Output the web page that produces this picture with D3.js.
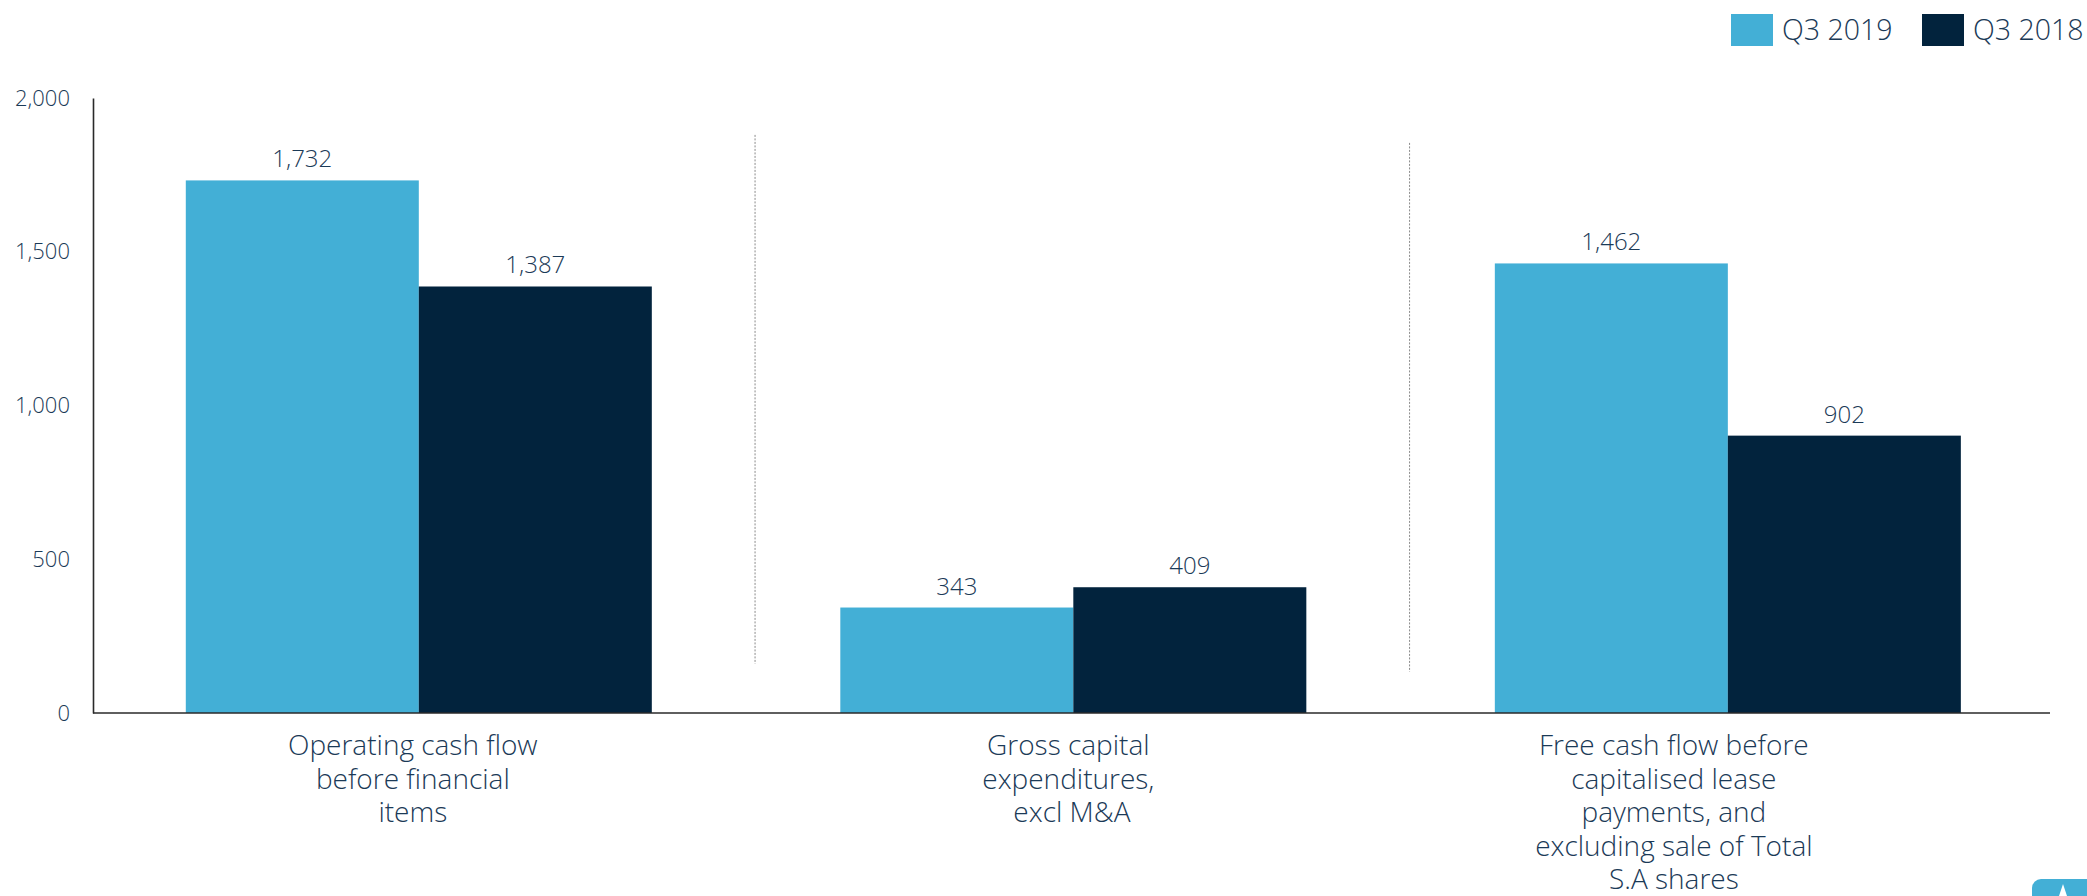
<!DOCTYPE html>
<html>
<head>
<meta charset="utf-8">
<script src="https://cdn.jsdelivr.net/npm/d3@7"></script>
<style>
  body { margin: 0; background: #fff; }
  text { font-family: "Open Sans", "Noto Sans", sans-serif; font-weight: 300; fill: #1b3a57; }
</style>
</head>
<body>
<div id="chart"></div>
<script>
// chart data
var categories = ["ocf", "capex", "fcf"];
var categoryLines = [
  ["Operating cash flow", "before financial", "items"],
  ["Gross capital", "expenditures,", "\u00a0excl M&A"],
  ["Free cash flow before", "capitalised lease", "payments, and", "excluding sale of Total", "S.A shares"]
];
var seriesNames = ["Q3 2019", "Q3 2018"];
var q3_2019 = [1732, 343, 1462];
var q3_2018 = [1387, 409, 902];
var yTicks = [0, 500, 1000, 1500, 2000];

var colors = ["#43afd6", "#02233d"];

// screen size
var svgWidth = 2087;
var svgHeight = 896;

var margin = { top: 98, right: 37, bottom: 183, left: 93 };
var width = svgWidth - margin.left - margin.right;
var height = svgHeight - margin.top - margin.bottom;

var svg = d3.select("#chart")
  .append("svg")
  .attr("width", svgWidth)
  .attr("height", svgHeight);

var chartGroup = svg.append("g")
  .attr("transform", `translate(${margin.left}, ${margin.top})`);

// scales
var xScale = d3.scaleBand()
  .domain(categories)
  .range([0, width])
  .paddingInner(0.288)
  .paddingOuter(0.139)
  .align(0.51);

var xSub = d3.scaleBand()
  .domain(seriesNames)
  .range([0, xScale.bandwidth()]);

var yScale = d3.scaleLinear()
  .domain([0, 2000])
  .range([height, 0]);

// y axis
var leftAxis = d3.axisLeft(yScale)
  .tickValues(yTicks)
  .tickSize(0)
  .tickPadding(23)
  .tickFormat(d3.format(","));

var yAxis = chartGroup.append("g").call(leftAxis);
yAxis.select(".domain").attr("stroke", "#2a2a2a").attr("stroke-width", 1.6);
yAxis.selectAll("text")
  .style("font-size", "22px")
  .attr("fill", "#1b3a57");

// bars
var rows = categories.map((c, i) => ({ cat: c, values: [q3_2019[i], q3_2018[i]] }));

var groups = chartGroup.selectAll(".grp")
  .data(rows)
  .enter()
  .append("g")
  .attr("class", "grp")
  .attr("transform", d => `translate(${xScale(d.cat)}, 0)`);

groups.selectAll("rect")
  .data(d => d.values.map((v, j) => ({ name: seriesNames[j], value: v, j: j })))
  .enter()
  .append("rect")
  .attr("x", d => xSub(d.name))
  .attr("y", d => yScale(d.value))
  .attr("width", xSub.bandwidth())
  .attr("height", d => height - yScale(d.value))
  .attr("fill", d => colors[d.j]);

groups.selectAll(".val")
  .data(d => d.values.map((v, j) => ({ name: seriesNames[j], value: v })))
  .enter()
  .append("text")
  .attr("class", "val")
  .attr("x", d => xSub(d.name) + xSub.bandwidth() / 2)
  .attr("y", d => yScale(d.value) - 13)
  .attr("text-anchor", "middle")
  .style("font-size", "24px")
  .text(d => d3.format(",")(d.value));

// x axis line
chartGroup.append("line")
  .attr("x1", 0)
  .attr("x2", width)
  .attr("y1", height)
  .attr("y2", height)
  .attr("stroke", "#2a2a2a")
  .attr("stroke-width", 1.6);

// dashed separators between groups
var step = xScale.step();
categories.slice(1).forEach(function(c, i) {
  var sx = xScale(c) - (step - xScale.bandwidth()) / 2 + 9;
  chartGroup.append("line")
    .attr("x1", sx)
    .attr("x2", sx)
    .attr("y1", yScale(1880) + i * 8)
    .attr("y2", yScale(160) + i * 8)
    .attr("stroke", "#8a8a8a")
    .attr("stroke-width", 1)
    .attr("stroke-dasharray", "2,1.5");
});

// category labels
var labelShift = [-6, -5, -54];
categories.forEach(function(c, i) {
  var t = chartGroup.append("text")
    .attr("text-anchor", "middle")
    .attr("transform", `translate(${xScale(c) + xScale.bandwidth() / 2 + labelShift[i]}, ${height + 42})`)
    .style("font-size", "28px");
  categoryLines[i].forEach(function(line, k) {
    t.append("tspan")
      .attr("x", 0)
      .attr("y", k * 33.5)
      .text(line);
  });
});

// legend
var legendX = [1731, 1922];
seriesNames.forEach(function(name, i) {
  svg.append("rect")
    .attr("x", legendX[i])
    .attr("y", 14)
    .attr("width", 42)
    .attr("height", 32)
    .attr("fill", colors[i]);
  svg.append("text")
    .attr("x", legendX[i] + 51)
    .attr("y", 40)
    .style("font-size", "28.5px")
    .text(name);
});

// small badge bottom-right
svg.append("rect")
  .attr("x", 2032)
  .attr("y", 879)
  .attr("width", 70)
  .attr("height", 40)
  .attr("rx", 9)
  .attr("fill", "#43afd6");
svg.append("path")
  .attr("d", "M2059,896 L2063,884 L2067,896 Z")
  .attr("fill", "#fff");
</script>
</body>
</html>
